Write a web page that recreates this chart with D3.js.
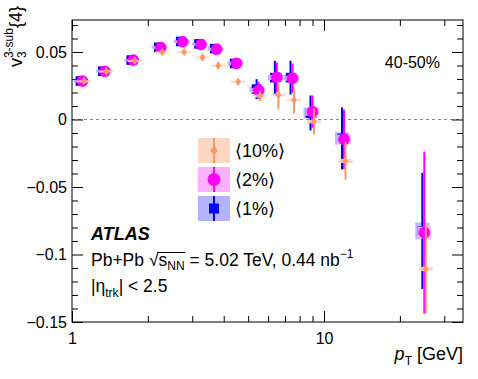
<!DOCTYPE html>
<html><head><meta charset="utf-8">
<script src="https://cdn.jsdelivr.net/npm/d3@7"></script>
<style>
html,body{margin:0;padding:0;background:#fff;}
svg text{font-family:"Liberation Sans",Arial,Helvetica,sans-serif;}
</style></head>
<body><svg id="c" width="478" height="379"></svg>
<script>
// ---- data ----
const pT = [1.1, 1.35, 1.75, 2.25, 2.75, 3.25, 3.75, 4.5, 5.5, 6.5, 7.5, 9, 12, 25];
const v1 = [0.0285, 0.0358, 0.0440, 0.0535, 0.0578, 0.0560, 0.0525, 0.0415, 0.0225, 0.0310, 0.0310, 0.0048, -0.0140, -0.0825];
const v1Stat = [0.0008, 0.0008, 0.0010, 0.0012, 0.0015, 0.0018, 0.0022, 0.0035, 0.0074, 0.0125, 0.0125, 0.0130, 0.0230, 0.0430];
const v1Sys = [0.0010, 0.0010, 0.0010, 0.0012, 0.0012, 0.0012, 0.0015, 0.0015, 0.0020, 0.0020, 0.0020, 0.0040, 0.0045, 0.0062];
const v2 = [0.0284, 0.0357, 0.0440, 0.0533, 0.0576, 0.0556, 0.0520, 0.0416, 0.0215, 0.0312, 0.0305, 0.0058, -0.0147, -0.0838];
const v2Stat = [0.0007, 0.0007, 0.0009, 0.0011, 0.0013, 0.0016, 0.0020, 0.0030, 0.0065, 0.0110, 0.0110, 0.0120, 0.0220, 0.0600];
const v2Sys = [0.0009, 0.0009, 0.0009, 0.0010, 0.0010, 0.0010, 0.0012, 0.0012, 0.0018, 0.0018, 0.0018, 0.0030, 0.0035, 0.0045];
const v10 = [0.0285, 0.0358, 0.0436, 0.0498, 0.0500, 0.0460, 0.0399, 0.0280, 0.0174, 0.0181, 0.0144, -0.0016, -0.0307, -0.1107];
const v10Stat = [0.0006, 0.0006, 0.0008, 0.0010, 0.0010, 0.0012, 0.0015, 0.0020, 0.0037, 0.0102, 0.0099, 0.0096, 0.0140, 0.0330];
const v10Sys = [0.0005, 0.0005, 0.0005, 0.0006, 0.0006, 0.0006, 0.0007, 0.0008, 0.0010, 0.0010, 0.0010, 0.0012, 0.0015, 0.0016];
const legendLabels = ["\u27E810%\u27E9", "\u27E82%\u27E9", "\u27E81%\u27E9"];
const yMajor = [-0.15, -0.1, -0.05, 0, 0.05];
const xMajor = [1, 10];
const xMinor = [2, 3, 4, 5, 6, 7, 8, 9, 20, 30];

// ---- layout ----
const L = 72, R = 463, T = 20, B = 322;
const svg = d3.select("#c");
const x = d3.scaleLog().domain([1, 35.6]).range([L, R]);
const y = d3.scaleLinear().domain([-0.15, 0.0737]).range([B, T]);
const yMinor = d3.range(-15, 8).map(i => i / 100).filter(v => !yMajor.some(m => Math.abs(m - v) < 1e-9));

const fmt = v => v === 0 ? "0" : (v < 0 ? "\u2212" + d3.format("~g")(-v) : d3.format("~g")(v));

// zero line
svg.append("line").attr("x1", L).attr("x2", R).attr("y1", y(0)).attr("y2", y(0))
  .attr("stroke", "#888").attr("stroke-width", 1).attr("stroke-dasharray", "3,3");

function axisStyle(g) {
  g.select(".domain").remove();
  g.selectAll("line").attr("stroke", "#000").attr("stroke-width", 1);
  g.selectAll("text").attr("font-size", 16).attr("fill", "#000")
    .attr("font-family", "'Liberation Sans',Arial,sans-serif");
}
// left
svg.append("g").attr("transform", `translate(${L},0)`)
  .call(d3.axisLeft(y).tickValues(yMajor).tickSize(-11).tickPadding(5).tickFormat(fmt)).call(axisStyle);
svg.append("g").attr("transform", `translate(${L},0)`)
  .call(d3.axisLeft(y).tickValues(yMinor).tickSize(-6).tickFormat("")).call(axisStyle);
// right
svg.append("g").attr("transform", `translate(${R},0)`)
  .call(d3.axisRight(y).tickValues(yMajor).tickSize(-11).tickFormat("")).call(axisStyle);
svg.append("g").attr("transform", `translate(${R},0)`)
  .call(d3.axisRight(y).tickValues(yMinor).tickSize(-6).tickFormat("")).call(axisStyle);
// bottom
svg.append("g").attr("transform", `translate(0,${B})`)
  .call(d3.axisBottom(x).tickValues(xMajor).tickSize(-11).tickPadding(11).tickFormat(d3.format("d"))).call(axisStyle);
svg.append("g").attr("transform", `translate(0,${B})`)
  .call(d3.axisBottom(x).tickValues(xMinor).tickSize(-6).tickFormat("")).call(axisStyle);
// top
svg.append("g").attr("transform", `translate(0,${T})`)
  .call(d3.axisTop(x).tickValues(xMajor).tickSize(-11).tickFormat("")).call(axisStyle);
svg.append("g").attr("transform", `translate(0,${T})`)
  .call(d3.axisTop(x).tickValues(xMinor).tickSize(-6).tickFormat("")).call(axisStyle);

svg.append("rect").attr("x", L).attr("y", T).attr("width", R - L).attr("height", B - T)
  .attr("fill", "none").attr("stroke", "#000").attr("stroke-width", 1);

// ---- series ----
const series = [
  { v: v1, stat: v1Stat, sys: v1Sys, col: "#0000ff", box: "#b3b3ff", dx: -2, marker: "square" },
  { v: v2, stat: v2Stat, sys: v2Sys, col: "#ff00ff", box: "#ffb0ff", dx: 0, marker: "circle" },
  { v: v10, stat: v10Stat, sys: v10Sys, col: "#fb9a63", box: "#fdd7c2", dx: 1.5, marker: "diamond" }
];
const boxW = 14;
function drawMarker(g, type, cx, cy, col, big) {
  if (type === "square") { const h = big ? 5 : 4.8; g.append("rect").attr("x", cx - h).attr("y", cy - h).attr("width", 2 * h).attr("height", 2 * h).attr("fill", col); }
  else if (type === "circle") g.append("circle").attr("cx", cx).attr("cy", cy).attr("r", big ? 6.5 : 5.8).attr("fill", col);
  else { const w = big ? 3.6 : 2.9, h = big ? 5.5 : 4.3; g.append("path").attr("d", `M${cx},${cy - h}L${cx + w},${cy}L${cx},${cy + h}L${cx - w},${cy}Z`).attr("fill", col); }
}
series.forEach(s => {
  const g = svg.append("g");
  pT.forEach((p, i) => {
    const cx = x(p) + s.dx;
    const y0 = y(s.v[i] + s.sys[i]), y1 = y(s.v[i] - s.sys[i]);
    g.append("rect").attr("x", cx - boxW / 2).attr("y", y0).attr("width", boxW).attr("height", Math.max(y1 - y0, 2))
      .attr("fill", s.box).attr("opacity", 0.9);
  });
  pT.forEach((p, i) => {
    const cx = x(p) + s.dx;
    g.append("line").attr("x1", cx).attr("x2", cx)
      .attr("y1", y(s.v[i] + s.stat[i])).attr("y2", y(s.v[i] - s.stat[i]))
      .attr("stroke", s.col).attr("stroke-width", 2);
    drawMarker(g, s.marker, cx, y(s.v[i]), s.col, false);
  });
});

// ---- legend ----
const legX = 198, legW = 32, legH = 25, legY = [138, 167, 196];
[2, 1, 0].forEach((si, k) => {
  const s = series[si];
  const g = svg.append("g");
  g.append("rect").attr("x", legX).attr("y", legY[k]).attr("width", legW).attr("height", legH).attr("fill", s.box);
  const cx = legX + legW / 2, cy = legY[k] + legH / 2;
  g.append("line").attr("x1", cx).attr("x2", cx).attr("y1", legY[k]).attr("y2", legY[k] + legH)
    .attr("stroke", s.col).attr("stroke-width", 2);
  drawMarker(g, s.marker, cx, cy, s.col, true);
  g.append("text").attr("x", 235).attr("y", cy + 6.5).attr("font-size", 18).text(legendLabels[k]);
});

// ---- texts ----
svg.append("text").attr("x", 440).attr("y", 68).attr("text-anchor", "end").attr("font-size", 16).text("40-50%");
svg.append("text").attr("x", 91).attr("y", 240).attr("font-size", 18).attr("font-weight", "bold").attr("font-style", "italic").text("ATLAS");
const t1 = svg.append("text").attr("x", 91).attr("y", 266).attr("font-size", 17.5);
t1.append("tspan").text("Pb+Pb ");
t1.append("tspan").text("\u221A");
t1.append("tspan").text("s");
t1.append("tspan").attr("font-size", 12).attr("dy", 4).text("NN");
t1.append("tspan").attr("dy", -4).text(" = 5.02 TeV, 0.44 nb");
t1.append("tspan").attr("font-size", 12).attr("dy", -8).text("\u22121");
{
  const n = t1.node();
  const xe = n.getEndPositionOfChar(9).x;
  const xr = n.getEndPositionOfChar(6).x;
  svg.append("line").attr("x1", xr - 1).attr("x2", xe + 0.5).attr("y1", 266 - 13.5).attr("y2", 266 - 13.5)
    .attr("stroke", "#000").attr("stroke-width", 1);
}
const t2 = svg.append("text").attr("x", 91).attr("y", 292).attr("font-size", 17.5);
t2.append("tspan").text("|\u03B7");
t2.append("tspan").attr("font-size", 12).attr("dy", 5).text("trk");
t2.append("tspan").attr("dy", -5).text("| < 2.5");

// x label
const xl = svg.append("text").attr("x", R).attr("y", 360).attr("text-anchor", "end").attr("font-size", 18);
xl.append("tspan").attr("font-style", "italic").text("p");
xl.append("tspan").attr("font-size", 12).attr("dy", 5).text("T");
xl.append("tspan").attr("dy", -5).text(" [GeV]");

// y label (rotated)
const yl = svg.append("g").attr("transform", "translate(22,6) rotate(-90)");
const yt = yl.append("text").attr("x", 0).attr("y", 0).attr("text-anchor", "end").attr("font-size", 18);
yt.append("tspan").text("v");
yt.append("tspan").attr("font-size", 12).attr("dy", 4).text("3");
yt.append("tspan").attr("font-size", 12).attr("dx", -6.7).attr("dy", -13).text("3-sub");
yt.append("tspan").attr("dy", 9).text("{4}");
</script></body></html>
